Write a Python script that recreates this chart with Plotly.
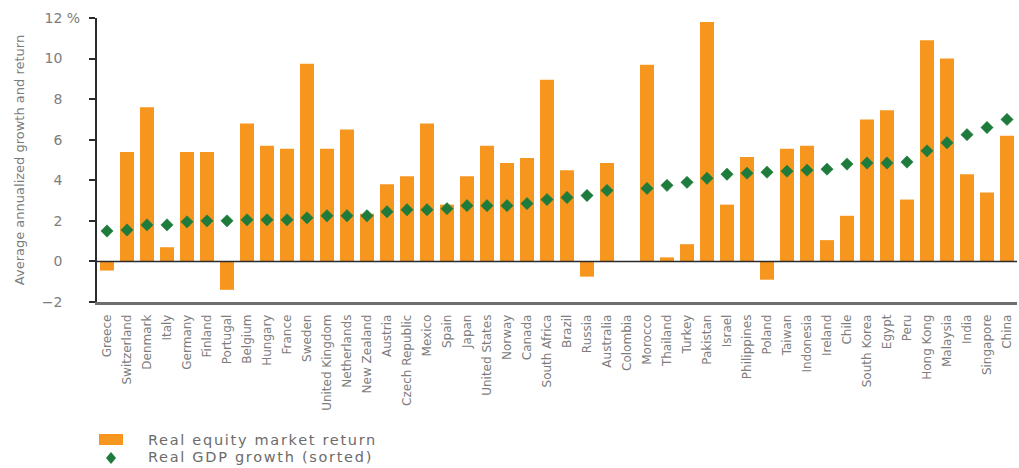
import plotly.graph_objects as go

# Countries in order of real GDP growth (ascending)
countries = [
    "Greece", "Switzerland", "Denmark", "Italy", "Germany", "Finland", "Portugal",
    "Belgium", "Hungary", "France", "Sweden", "United Kingdom", "Netherlands",
    "New Zealand", "Austria", "Czech Republic", "Mexico", "Spain", "Japan",
    "United States", "Norway", "Canada", "South Africa", "Brazil", "Russia",
    "Australia", "Colombia", "Morocco", "Thailand", "Turkey", "Pakistan", "Israel",
    "Philippines", "Poland", "Taiwan", "Indonesia", "Ireland", "Chile",
    "South Korea", "Egypt", "Peru", "Hong Kong", "Malaysia", "India", "Singapore",
    "China",
]

# Average annualized real equity market return (%)
equity_return = [
    -0.45, 5.4, 7.6, 0.7, 5.4, 5.4, -1.4, 6.8, 5.7, 5.55, 9.75, 5.55, 6.5, 2.35,
    3.8, 4.2,
    6.8, 2.8, 4.2, 5.7, 4.85, 5.1, 8.95, 4.5, -0.75, 4.85, None, 9.7, 0.2, 0.85,
    11.8,
    2.8, 5.15, -0.9, 5.55, 5.7, 1.05, 2.25, 7.0, 7.45, 3.05, 10.9, 10.0, 4.3, 3.4,
    6.2,
]

# Average annualized real GDP growth (%), sorted
gdp_growth = [
    1.5, 1.55, 1.8, 1.8, 1.95, 2.0, 2.0, 2.05, 2.05, 2.05, 2.15, 2.25, 2.25, 2.25,
    2.45, 2.55,
    2.55, 2.6, 2.75, 2.75, 2.75, 2.85, 3.05, 3.15, 3.25, 3.5, None, 3.6, 3.75, 3.9,
    4.1,
    4.3, 4.35, 4.4, 4.45, 4.5, 4.55, 4.8, 4.85, 4.85, 4.9, 5.45, 5.85, 6.25, 6.6,
    7.0,
]

series_names = ["Real equity market return", "Real GDP growth (sorted)"]

y_ticks = [-2, 0, 2, 4, 6, 8, 10, 12]
hidden_pct = "<span style='color:rgba(0,0,0,0)'> %</span>"
y_ticktext = [("\u2212" + str(-v) if v < 0 else str(v)) + (" %" if v == 12 else hidden_pct)
              for v in y_ticks]

ORANGE = "#F7961F"
GREEN = "#1E7B3C"
GRAY_TEXT = "#7d7d7d"
FONT = "DejaVu Sans"

# plot area in pixels (used to place the hand-drawn legend below the axis)
W, H = 1019, 468
L, R, T, B = 97, 2, 18, 166
PW, PH = W - L - R, H - T - B


def px_x(px):
    return (px - L) / PW


def px_y(py):
    return (H - B - py) / PH


fig = go.Figure()

fig.add_trace(go.Bar(
    x=countries,
    y=equity_return,
    name=series_names[0],
    marker=dict(color=ORANGE, line=dict(width=0)),
    width=0.7,
    showlegend=False,
))

fig.add_trace(go.Scatter(
    x=countries,
    y=gdp_growth,
    name=series_names[1],
    mode="markers",
    marker=dict(symbol="diamond", size=9.5, color=GREEN,
                line=dict(width=0.5, color=GREEN)),
    showlegend=False,
))

# zero reference line drawn over the bars
fig.add_shape(type="line", xref="paper", yref="y", x0=0, x1=1, y0=0, y1=0,
              line=dict(color="#2b2b2b", width=1.6), layer="above")

# legend: orange swatch and green diamond with labels
fig.add_shape(type="rect", xref="paper", yref="paper",
              x0=px_x(99), x1=px_x(123), y0=px_y(445), y1=px_y(434),
              fillcolor=ORANGE, line=dict(width=0))
cx, cy = 111, 458
fig.add_shape(type="path", xref="paper", yref="paper",
              path=(f"M {px_x(cx)} {px_y(cy - 6)} L {px_x(cx + 5)} {px_y(cy)} "
                    f"L {px_x(cx)} {px_y(cy + 6)} L {px_x(cx - 5)} {px_y(cy)} Z"),
              fillcolor=GREEN, line=dict(width=0))
for name, ty in zip(series_names, [439.5, 457.5]):
    fig.add_annotation(
        xref="paper", yref="paper", x=px_x(146), y=px_y(ty),
        xanchor="left", yanchor="middle", showarrow=False,
        text=f"<span style='letter-spacing:1.7px'>{name}</span>",
        font=dict(family=FONT, size=14.5, color="#6c6c6c"),
    )

fig.update_layout(
    width=W,
    height=H,
    autosize=False,
    margin=dict(l=L, r=R, t=T, b=B, autoexpand=False),
    paper_bgcolor="white",
    plot_bgcolor="white",
    font=dict(family=FONT, color=GRAY_TEXT),
    showlegend=False,
)

fig.update_xaxes(
    type="category",
    categoryorder="array",
    categoryarray=countries,
    range=[-0.5, len(countries) - 0.5],
    tickangle=-90,
    tickfont=dict(family=FONT, size=12, color=GRAY_TEXT),
    showgrid=False,
    zeroline=False,
    showline=True,
    linecolor="#6e6e6e",
    linewidth=2.5,
    ticks="",
    ticklabelstandoff=5,
    automargin=False,
    fixedrange=True,
)

fig.update_yaxes(
    range=[-2, 12],
    tickmode="array",
    tickvals=y_ticks,
    ticktext=y_ticktext,
    tickfont=dict(family=FONT, size=14, color=GRAY_TEXT),
    ticks="outside",
    ticklen=6,
    tickwidth=2,
    tickcolor="#2b2b2b",
    showline=True,
    linecolor="#2b2b2b",
    linewidth=2,
    showgrid=False,
    zeroline=False,
    ticklabelstandoff=6,
    automargin=False,
    title=dict(text="Average annualized growth and return",
               font=dict(family=FONT, size=13, color=GRAY_TEXT),
               standoff=14),
    fixedrange=True,
)

fig.write_html("out.html")
